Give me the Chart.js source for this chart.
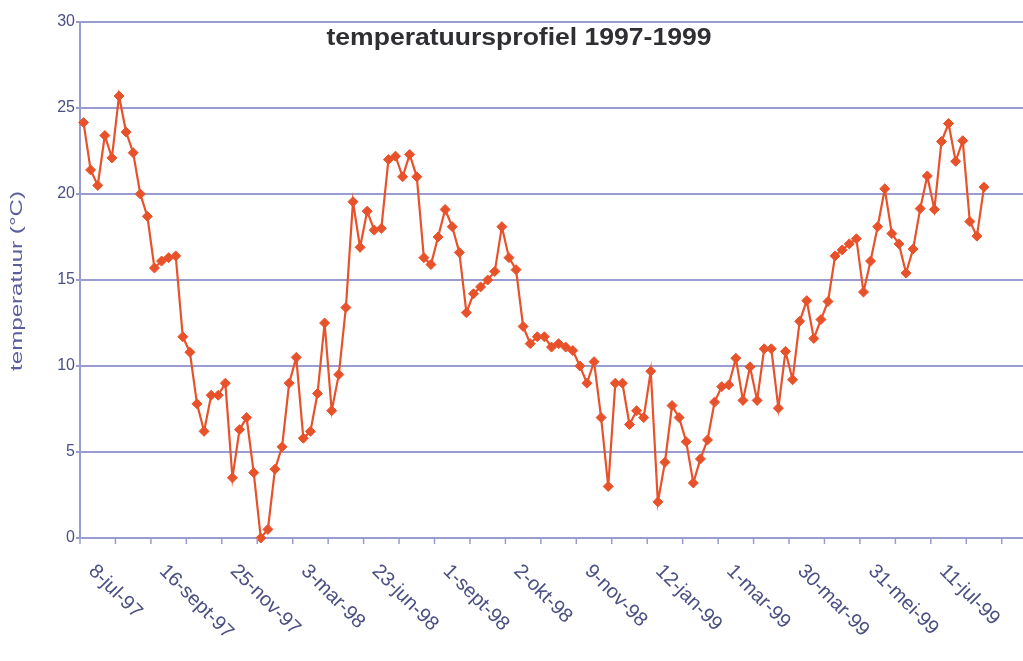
<!DOCTYPE html>
<html>
<head>
<meta charset="utf-8">
<script src="https://cdn.jsdelivr.net/npm/chart.js@4.4.1/dist/chart.umd.min.js"></script>
<style>
  html, body { margin: 0; padding: 0; background: #ffffff; overflow: hidden; }
  #wrap { width: 1023px; height: 661px; }
</style>
</head>
<body>
<div id="wrap"><canvas id="c" width="1023" height="661"></canvas></div>
<script>
// ---- data ----
const chartTitle = 'temperatuursprofiel 1997-1999';
const yAxisTitle = 'temperatuur (\u00B0C)';
const tickLabels = ['8-jul-97', '16-sept-97', '25-nov-97', '3-mar-98', '23-jun-98', '1-sept-98',
  '2-okt-98', '9-nov-98', '12-jan-99', '1-mar-99', '30-mar-99', '31-mei-99', '11-jul-99'];
const yTicks = [0, 5, 10, 15, 20, 25, 30];
const temperatures = [
  24.15, 21.4, 20.5, 23.4, 22.1, 25.7, 23.6, 22.4, 20.0, 18.7,
  15.7, 16.1, 16.3, 16.4,
  11.7, 10.8, 7.8, 6.2, 8.3, 8.3, 9.0, 3.5, 6.3, 7.0, 3.8, 0.0, 0.5, 4.0, 5.3, 9.0, 10.5,
  5.8, 6.2, 8.4, 12.5, 7.4, 9.5, 13.4, 19.55, 16.9, 19.0, 17.9, 18.0, 22.0, 22.2, 21.0, 22.3, 21.0, 16.3, 15.9, 17.5, 19.1,
  18.1, 16.6, 13.1, 14.2, 14.6, 15.0, 15.5, 18.1, 16.3, 15.6, 12.3, 11.3, 11.7, 11.7, 11.1, 11.3, 11.1, 10.9, 10.0, 9.0,
  10.25, 7.0, 3.0, 9.0, 9.0, 6.6, 7.4, 7.0, 9.7, 2.1, 4.4, 7.7, 7.0, 5.6, 3.2, 4.6, 5.7, 7.9, 8.8, 8.9, 10.45, 8.0,
  9.95, 8.0, 11.0, 11.0, 7.55, 10.85, 9.2, 12.6, 13.8, 11.6, 12.7, 13.75, 16.4, 16.75, 17.1, 17.4, 14.3, 16.1, 18.1, 20.3,
  17.7, 17.1, 15.4, 16.8, 19.15, 21.05, 19.1, 23.05, 24.1, 21.9, 23.1, 18.4, 17.55, 20.4
];

// ---- layout / style settings ----
const labelEvery = 10;      // one date label every 10 measurements
const tickEvery = 5;        // a tick mark every 5 measurements
const categoryCount = 133;  // axis length in measurement slots
const gridColor = '#989cd0';
const axisTextColor = '#4b4f82';
const lineColor = '#e8522b';
const fontFamily = '"Liberation Sans", Arial, sans-serif';

const categories = [];
for (let i = 0; i < categoryCount; i++) {
  const k = i / labelEvery;
  categories.push(i % labelEvery === 0 && k < tickLabels.length ? tickLabels[k] : '');
}

function fittedText(ctx, text, font, targetWidth) {
  ctx.font = font;
  const w = ctx.measureText(text).width;
  ctx.scale(targetWidth / w, 1);
  ctx.fillText(text, 0, 0);
}

const decor = {
  id: 'decor',
  afterDraw(chart) {
    const ctx = chart.ctx;
    const xs = chart.scales.x;
    const area = chart.chartArea;
    const step = xs.getPixelForValue(1) - xs.getPixelForValue(0);
    ctx.save();
    // tick marks
    ctx.strokeStyle = gridColor;
    ctx.lineWidth = 1.5;
    for (let i = 0; i <= categoryCount; i += tickEvery) {
      const x = xs.getPixelForValue(0) - step / 2 + i * step;
      ctx.beginPath();
      ctx.moveTo(x, area.bottom);
      ctx.lineTo(x, area.bottom + 6);
      ctx.stroke();
    }
    // rotated date labels
    ctx.fillStyle = axisTextColor;
    ctx.font = '20px ' + fontFamily;
    ctx.textAlign = 'left';
    ctx.textBaseline = 'middle';
    categories.forEach((lab, i) => {
      if (!lab) return;
      const x = xs.getPixelForValue(i);
      ctx.save();
      ctx.translate(x + 8, area.bottom + 30);
      ctx.rotate(Math.PI / 4);
      ctx.fillText(lab, 0, 0);
      ctx.restore();
    });
    // y axis title
    ctx.save();
    ctx.fillStyle = '#5a5e9c';
    ctx.textAlign = 'center';
    ctx.textBaseline = 'middle';
    ctx.translate(18, 281);
    ctx.rotate(-Math.PI / 2);
    fittedText(ctx, yAxisTitle, '16px ' + fontFamily, 180);
    ctx.restore();
    // title inside the plot area
    ctx.save();
    ctx.fillStyle = '#2e2e33';
    ctx.textAlign = 'center';
    ctx.textBaseline = 'middle';
    ctx.translate(519, 39);
    fittedText(ctx, chartTitle, 'bold 23px ' + fontFamily, 385);
    ctx.restore();
    ctx.restore();
  }
};

new Chart(document.getElementById('c'), {
  type: 'line',
  data: {
    labels: categories,
    datasets: [{
      data: temperatures,
      borderColor: lineColor,
      backgroundColor: lineColor,
      borderWidth: 2.2,
      pointStyle: 'rectRot',
      pointRadius: 5,
      pointBorderWidth: 1,
      pointBackgroundColor: lineColor,
      pointBorderColor: lineColor,
      tension: 0,
      fill: false,
      clip: false
    }]
  },
  options: {
    responsive: false,
    animation: false,
    devicePixelRatio: 1,
    layout: { autoPadding: false, padding: { top: 22, right: 0, left: 0, bottom: 0 } },
    plugins: { legend: { display: false }, tooltip: { enabled: false }, title: { display: false } },
    scales: {
      x: {
        type: 'category',
        offset: true,
        grid: { display: false, offset: true },
        border: { display: false },
        ticks: { display: false, autoSkip: false },
        afterFit(s) { s.height = 123; s.paddingLeft = 0; s.paddingRight = 0; }
      },
      y: {
        min: 0, max: 30,
        afterBuildTicks(s) { s.ticks = yTicks.map(v => ({ value: v })); },
        ticks: {
          color: axisTextColor,
          font: { family: fontFamily, size: 16 },
          padding: 1
        },
        grid: { color: gridColor, lineWidth: 2, tickLength: 4 },
        border: { display: true, color: gridColor, width: 2 },
        title: { display: false },
        afterFit(s) { s.width = 80; s.paddingTop = 0; s.paddingBottom = 0; }
      }
    }
  },
  plugins: [decor]
});
</script>
</body>
</html>
